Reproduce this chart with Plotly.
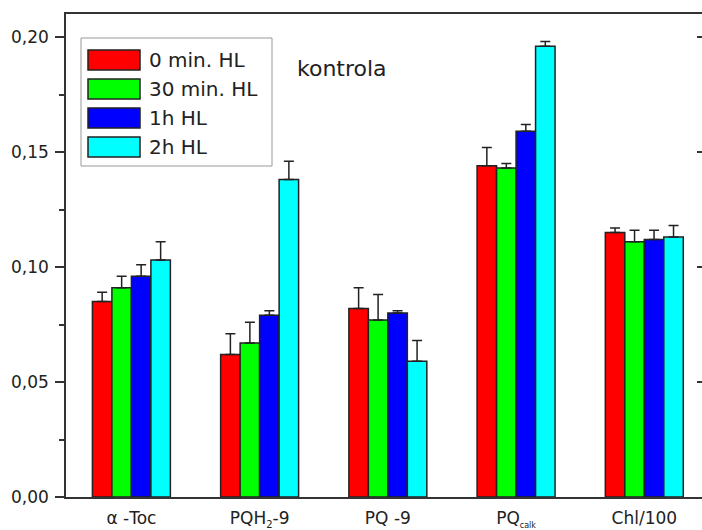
import plotly.graph_objects as go

# Categories and series
categories = ["α -Toc",
              "PQH<sub><span style='font-size:10px'>2</span></sub>-9",
              "PQ -9",
              "PQ<sub><span style='font-size:8px'>calk</span></sub>",
              "Chl/100"]
series_names = ["0 min. HL", "30 min. HL", "1h HL", "2h HL"]
colors = ["#FF0000", "#00FF00", "#0000FF", "#00FFFF"]

vals_0min = [0.085, 0.062, 0.082, 0.144, 0.115]
vals_30min = [0.091, 0.067, 0.077, 0.143, 0.111]
vals_1h = [0.096, 0.079, 0.080, 0.159, 0.112]
vals_2h = [0.103, 0.138, 0.059, 0.196, 0.113]

err_0min = [0.004, 0.009, 0.009, 0.008, 0.002]
err_30min = [0.005, 0.009, 0.011, 0.002, 0.005]
err_1h = [0.005, 0.002, 0.001, 0.003, 0.004]
err_2h = [0.008, 0.008, 0.009, 0.002, 0.005]

values = [vals_0min, vals_30min, vals_1h, vals_2h]
errors = [err_0min, err_30min, err_1h, err_2h]

y_ticks = [0.0, 0.05, 0.10, 0.15, 0.20]

W, H = 702, 530
ML, MR, MT, MB = 66, 0, 14, 33
PW, PH = W - ML - MR, H - MT - MB
FONT = "DejaVu Sans"
INK = "#222222"


def px_x(x):
    return (x - ML) / PW


def px_y(y):
    return (H - MB - y) / PH


fig = go.Figure()
for name, col, v, e in zip(series_names, colors, values, errors):
    fig.add_trace(go.Bar(
        x=list(range(len(categories))), y=v, name=name,
        marker=dict(color=col, line=dict(color=INK, width=1.5)),
        error_y=dict(type="data", array=e, symmetric=False,
                     arrayminus=[0] * len(e), color=INK, thickness=1.5, width=5),
        showlegend=False,
    ))

# Empty trace so the mirrored right-hand axis gets drawn
fig.add_trace(go.Scatter(x=[None], y=[None], yaxis="y2", showlegend=False,
                         hoverinfo="skip"))

# Hand-built legend box with wide colour swatches
shapes = [dict(type="rect", xref="paper", yref="paper",
               x0=px_x(81), x1=px_x(272), y0=px_y(166), y1=px_y(38),
               line=dict(color="#999999", width=1), fillcolor="white", layer="above")]
annotations = []
for i, (name, col) in enumerate(zip(series_names, colors)):
    top = 50 + 29 * i
    shapes.append(dict(type="rect", xref="paper", yref="paper",
                       x0=px_x(88), x1=px_x(140), y0=px_y(top + 20), y1=px_y(top),
                       line=dict(color=INK, width=1.5), fillcolor=col, layer="above"))
    annotations.append(dict(xref="paper", yref="paper", x=px_x(147), y=px_y(top + 10),
                            text=name, showarrow=False, xanchor="left", yanchor="middle",
                            font=dict(family=FONT, size=20, color=INK)))

annotations.append(dict(xref="paper", yref="paper", x=px_x(342), y=px_y(68),
                        text="kontrola", showarrow=False, xanchor="center", yanchor="middle",
                        font=dict(family=FONT, size=22, color=INK)))

fig.update_layout(
    width=W, height=H,
    margin=dict(l=ML, r=MR, t=MT, b=MB, pad=0),
    paper_bgcolor="white", plot_bgcolor="white",
    barmode="group", bargap=0.392, bargroupgap=0,
    separators=",.",
    font=dict(family=FONT, size=17, color=INK),
    shapes=shapes, annotations=annotations,
    xaxis=dict(
        range=[-0.51, 4.45], tickmode="array",
        tickvals=list(range(len(categories))), ticktext=categories,
        showline=True, linecolor="#333333", linewidth=1.5, mirror=True,
        ticks="", showgrid=False, zeroline=False, ticklabelstandoff=5,
        tickfont=dict(family=FONT, size=17, color=INK),
    ),
    yaxis=dict(
        range=[0, 0.21], tickmode="array", tickvals=y_ticks, tickformat=".2f",
        showline=True, linecolor="#333333", linewidth=1.5,
        ticks="outside", ticklen=9, tickwidth=1.5, tickcolor="#333333",
        minor=dict(dtick=0.025, ticks="outside", ticklen=5, tickwidth=1.5,
                   tickcolor="#333333", showgrid=False),
        showgrid=False, zeroline=False, ticklabelstandoff=3,
        tickfont=dict(family=FONT, size=17, color=INK),
    ),
    yaxis2=dict(
        range=[0, 0.21], overlaying="y", side="right", anchor="x",
        tickmode="array", tickvals=y_ticks, showticklabels=False,
        ticks="inside", ticklen=5, tickwidth=1.5, tickcolor="#333333",
        showline=False, showgrid=False, zeroline=False,
    ),
)

fig.write_html("out.html")
